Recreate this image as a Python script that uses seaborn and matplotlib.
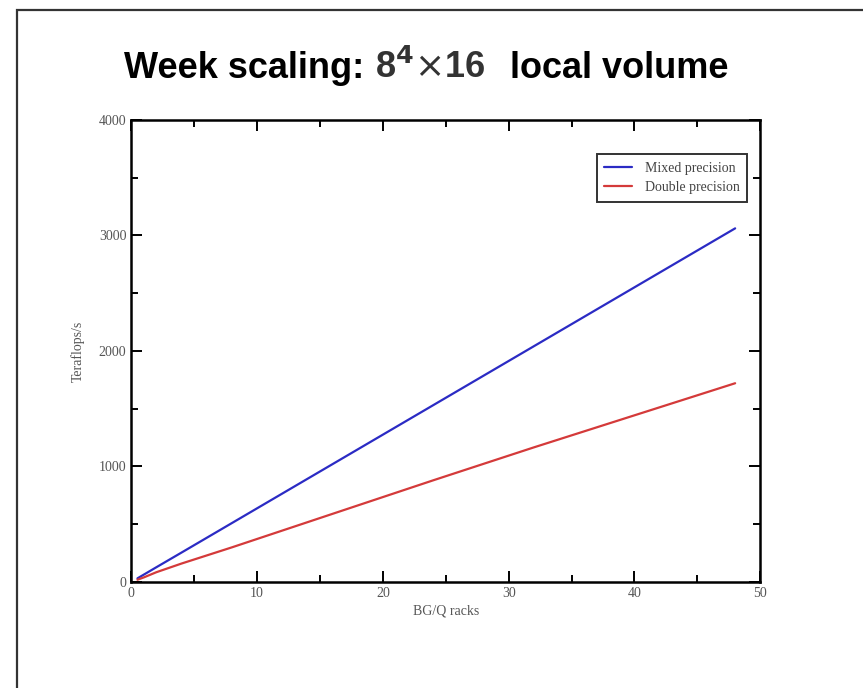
import matplotlib
matplotlib.use("Agg")
import matplotlib.pyplot as plt
import seaborn as sns
import pandas as pd
from matplotlib.patches import Rectangle
from matplotlib.ticker import MultipleLocator

racks = [0.5, 1, 2, 4, 8, 16, 24, 32, 48]
mixed = [32, 64, 128, 255, 510, 1020, 1530, 2040, 3060]
double = [20, 40, 85, 160, 300, 590, 880, 1165, 1720]
series_names = ["Mixed precision", "Double precision"]
series_colors = ["#2b2bc4", "#d43a3a"]

df = pd.concat([
    pd.DataFrame({"racks": racks, "tflops": mixed, "series": series_names[0]}),
    pd.DataFrame({"racks": racks, "tflops": double, "series": series_names[1]}),
])

sns.set_theme(style="white")
plt.rcParams['font.family'] = ['Liberation Serif', 'DejaVu Serif']

fig = plt.figure(figsize=(8.63, 6.88), dpi=100)
ax = fig.add_axes([0.152, 0.154, 0.729, 0.672])

sns.lineplot(data=df, x="racks", y="tflops", hue="series", palette=series_colors,
             hue_order=series_names, ax=ax, linewidth=1.6)

ax.set_xlim(0, 50)
ax.set_ylim(0, 4000)
ax.xaxis.set_major_locator(MultipleLocator(10))
ax.xaxis.set_minor_locator(MultipleLocator(5))
ax.yaxis.set_major_locator(MultipleLocator(1000))
ax.yaxis.set_minor_locator(MultipleLocator(500))
ax.tick_params(which="both", direction="in", top=True, right=True, bottom=True, left=True,
               colors="black", labelcolor="#555555", labelsize=10, width=1.4)
ax.tick_params(which="major", length=8)
ax.tick_params(which="minor", length=5)
for s in ax.spines.values():
    s.set_color("black")
    s.set_linewidth(1.8)
ax.set_xlabel("BG/Q racks", fontsize=10, color="#555555", labelpad=3)
ax.set_ylabel("Teraflops/s", fontsize=10, color="#555555", labelpad=10)

leg = ax.legend(loc="upper right", bbox_to_anchor=(0.99, 0.94), fontsize=10, frameon=True,
                fancybox=False, edgecolor="black", handlelength=2.0, borderpad=0.55,
                labelspacing=0.45, handletextpad=0.9)
leg.get_frame().set_linewidth(1.4)
for t in leg.get_texts():
    t.set_color("#444444")

title_font = ["Liberation Sans", "DejaVu Sans"]
ty = 1 - 78 / 688
fig.text(124 / 863, ty, "Week scaling:", fontsize=26, fontweight="bold",
         family=title_font, color="black", ha="left", va="baseline")
fig.text(375 / 863, ty, r"8$^{\mathbf{4}}$$\times$16", fontsize=26, fontweight="bold",
         family=title_font, color="#333333", ha="left", va="baseline")
fig.text(510 / 863, ty, "local volume", fontsize=26, fontweight="bold",
         family=title_font, color="black", ha="left", va="baseline")

fig.patches.append(Rectangle((17 / 863, -0.1), 1.2, 1.1 - 10 / 688, transform=fig.transFigure,
                             fill=False, edgecolor="#333333", linewidth=1.6))

fig.savefig("out.png", dpi=100)
